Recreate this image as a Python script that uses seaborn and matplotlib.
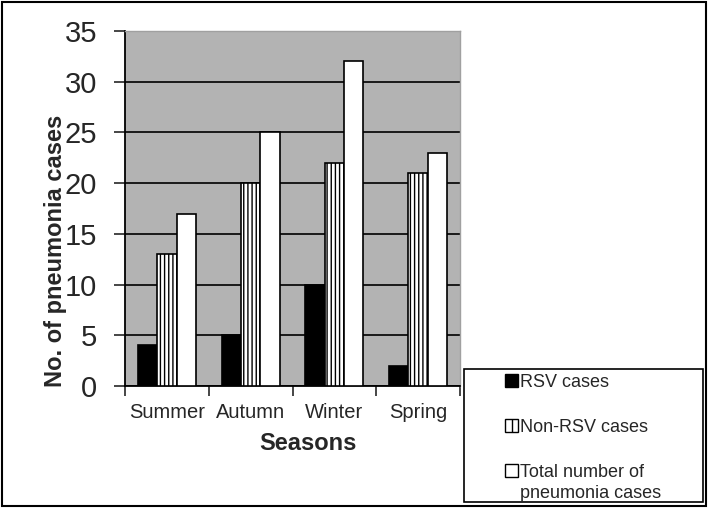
import numpy as np
import pandas as pd
import matplotlib
matplotlib.use('Agg')
import matplotlib.pyplot as plt
import matplotlib.patches as mpatches
import seaborn as sns

sns.set_style('white')
plt.rcParams['font.family'] = ['Liberation Sans', 'DejaVu Sans']
plt.rcParams['hatch.linewidth'] = 1.0

seasons = ['Summer', 'Autumn', 'Winter', 'Spring']
series = ['RSV cases', 'Non-RSV cases', 'Total number of\npneumonia cases']
rsv = [4, 5, 10, 2]
non_rsv = [13, 20, 22, 21]
total = [17, 25, 32, 23]

df = pd.DataFrame({
    'season': seasons * 3,
    'series': [series[0]] * 4 + [series[1]] * 4 + [series[2]] * 4,
    'cases': rsv + non_rsv + total,
})

fig = plt.figure(figsize=(7.08, 5.08), dpi=100)
ax = fig.add_axes([125 / 708, 1 - 386 / 508, 335 / 708, 355 / 508])
ax.set_facecolor('#b3b3b3')

sns.barplot(data=df, x='season', y='cases', hue='series', order=seasons,
            hue_order=series, width=0.69, ax=ax, legend=False, zorder=3)

faces = ['black', 'white', 'white']
hatches = [None, '||||', None]
for cont, fc, h in zip(ax.containers, faces, hatches):
    for p in cont.patches:
        p.set_facecolor(fc)
        p.set_edgecolor('black')
        p.set_linewidth(1.2)
        if h:
            p.set_hatch(h)

ax.set_ylim(0, 35)
ax.set_xlim(-0.5, 3.5)
ax.set_yticks(range(0, 36, 5))
ax.yaxis.grid(True, color='black', linewidth=1.2, zorder=0)
ax.set_axisbelow(True)
for s in ['top', 'right']:
    ax.spines[s].set_color('#a0a0a0')
    ax.spines[s].set_linewidth(1)
for s in ['left', 'bottom']:
    ax.spines[s].set_color('black')
    ax.spines[s].set_linewidth(1.3)

ax.tick_params(axis='y', labelsize=21, length=8, width=1.2, direction='out', left=True, pad=12)
ax.set_xticks(range(4))
ax.set_xticklabels(seasons)
ax.tick_params(axis='x', which='major', labelsize=14.5, length=0, pad=12)
ax.set_xticks([-0.5, 0.5, 1.5, 2.5, 3.5], minor=True)
ax.tick_params(axis='x', which='minor', length=7, width=1.2, direction='out', bottom=True)

ax.set_xlabel('Seasons', fontsize=17, fontweight='bold')
ax.set_ylabel('No. of pneumonia cases', fontsize=17, fontweight='bold')
ax.xaxis.set_label_coords(0.546, -0.13)
ax.yaxis.set_label_coords(-0.172, 0.38)

# legend box
fig.patches.append(mpatches.Rectangle((464 / 708, 1 - 502 / 508), 239 / 708, 133 / 508,
                                      transform=fig.transFigure, fill=True, facecolor='white',
                                      edgecolor='black', linewidth=1.2, zorder=5))
handles = [
    mpatches.Patch(facecolor='black', edgecolor='black', label=series[0]),
    mpatches.Patch(facecolor='white', edgecolor='black', hatch='||', label=series[1]),
    mpatches.Patch(facecolor='white', edgecolor='black', label=series[2].split('\n')[0]),
]
leg = fig.legend(handles=handles, loc='upper left',
                 bbox_to_anchor=(505 / 708, 1 - 374 / 508),
                 fontsize=13, frameon=False,
                 handlelength=0.7, handleheight=0.7, handletextpad=0.15,
                 labelspacing=1.55, borderpad=0, borderaxespad=0)
leg.set_zorder(6)

fig.canvas.draw()
bb = leg.get_texts()[2].get_window_extent().transformed(fig.transFigure.inverted())
fig.text(bb.x0, bb.y0 - 0.008, series[2].split('\n')[1], fontsize=13,
         ha='left', va='top', zorder=7)

fig.patches.append(mpatches.Rectangle((0.003, 0.004), 0.994, 0.992, transform=fig.transFigure,
                                      fill=False, edgecolor='black', linewidth=1.5))

fig.savefig('out.png', dpi=100)
plt.close()
